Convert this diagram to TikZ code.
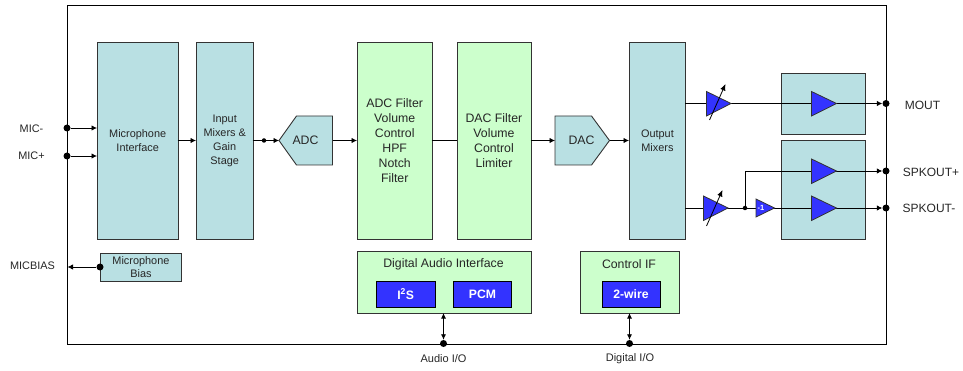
\documentclass[tikz,border=0pt]{standalone}
\usepackage{fontspec}
\setmainfont{Liberation Sans}
\usetikzlibrary{arrows.meta}
\definecolor{teal}{HTML}{B9E0E3}
\definecolor{lgreen}{HTML}{CCFFCC}
\definecolor{vblue}{HTML}{3333FF}
\definecolor{edge}{HTML}{333333}
\newcommand{\fs}[1]{\fontsize{#1}{#1}\selectfont}
\tikzset{
  x=1pt,y=-1pt,
  blk/.style={draw=edge,line width=0.9pt,anchor=north west,inner sep=0pt,align=center,text=black!85},
  tealbox/.style={blk,fill=teal},
  greenbox/.style={blk,fill=lgreen},
  bluebox/.style={blk,fill=vblue,draw=black,text=white,font=\bfseries\fs{12.2}\selectfont},
  lbl/.style={inner sep=0pt,text=black!85},
  sm/.style={font=\fs{10.9}\selectfont,execute at begin node={\baselineskip=14pt}},
  lg/.style={font=\fs{12.3}\selectfont,execute at begin node={\baselineskip=15pt}},
  wire/.style={draw=black,line width=0.8pt},
  arr/.style={wire,-{Latex[length=5.5pt,width=5.5pt]}},
  darr/.style={wire,{Latex[length=5.5pt,width=5pt]}-{Latex[length=5.5pt,width=5pt]}},
  dot/.style={circle,fill=black,inner sep=0pt,minimum size=#1},
  amp/.style={draw=edge,line width=0.8pt,fill=vblue},
  polybox/.style={draw=edge,line width=0.9pt,fill=teal},
  gainarrow/.style={draw=black,line width=0.8pt,-{Latex[length=6.5pt,width=5.5pt]}}
}
\begin{document}
\begin{tikzpicture}
\useasboundingbox (0.5,0) rectangle (963.5,371);
\node[draw=black,line width=0.8pt,anchor=north west,inner sep=0pt,minimum width=819pt,minimum height=338.5pt] (chip) at (67.5,5) {};
% blocks
\node[tealbox,sm,minimum width=80.5pt,minimum height=197pt] (micif) at (97.5,42) {Microphone\\Interface};
\node[tealbox,sm,minimum width=56.5pt,minimum height=197pt] (inmix) at (196.5,42) {Input\\Mixers \&\\Gain\\Stage};
\node[tealbox,sm,minimum width=81pt,minimum height=27.5pt,execute at begin node={\baselineskip=13pt}] (micbias) at (100.5,253) {Microphone\\Bias};
\node[greenbox,lg,minimum width=74.5pt,minimum height=197pt] (adcf) at (357.5,42) {ADC Filter\\Volume\\Control\\HPF\\Notch\\Filter};
\node[greenbox,lg,minimum width=74pt,minimum height=197pt] (dacf) at (457,42) {DAC Filter\\Volume\\Control\\Limiter};
\node[tealbox,sm,minimum width=56pt,minimum height=197pt] (outmix) at (629.5,42) {Output\\Mixers};
\node[tealbox,minimum width=83.5pt,minimum height=61pt] (moutbox) at (781.5,73) {};
\node[tealbox,minimum width=83.5pt,minimum height=98.5pt] (spkbox) at (781.5,140.5) {};
\node[greenbox,minimum width=173.5pt,minimum height=61.5pt] (dai) at (357.5,251.5) {};
\node[lbl,font=\fs{12.3}\selectfont] (dait) at (444,264) {Digital Audio Interface};
\node[bluebox,minimum width=58.5pt,minimum height=26.5pt] (iis) at (376.5,280.5) {I\textsuperscript{2}S};
\node[bluebox,minimum width=58pt,minimum height=26.5pt] (pcm) at (453.5,280.5) {PCM};
\node[greenbox,minimum width=99.5pt,minimum height=61.5pt] (ctl) at (580,251.5) {};
\node[lbl,font=\fs{12.3}\selectfont] (ctlt) at (629.5,264) {Control IF};
\node[bluebox,minimum width=58pt,minimum height=26.5pt] (twow) at (602,280.5) {2-wire};
% ADC / DAC
\draw[polybox] (279.5,140.5) -- (297,116) -- (333,116) -- (333,165) -- (297,165) -- cycle;
\draw[polybox] (555.5,116) -- (592,116) -- (610,140.5) -- (592,165) -- (555.5,165) -- cycle;
\node[lbl,font=\fs{12.3}\selectfont] (adc) at (306,140.5) {ADC};
\node[lbl,font=\fs{12.3}\selectfont] (dac) at (582,140.5) {DAC};
\coordinate (adcin) at (279.5,140.5);
\coordinate (adcout) at (333,140.5);
\coordinate (dacin) at (555.5,140.5);
\coordinate (dacout) at (610,140.5);
% terminals
\node[dot=7pt] (pmicm) at (67.5,128) {};
\node[dot=7pt] (pmicp) at (67.5,156) {};
\node[dot=7pt] (pbias) at (100.5,267) {};
\node[dot=7pt] (pmout) at (886.5,103.5) {};
\node[dot=7pt] (pspkp) at (886.5,171) {};
\node[dot=7pt] (pspkm) at (886.5,208) {};
\node[dot=7pt] (paud) at (444,343.5) {};
\node[dot=7pt] (pdig) at (630,343.5) {};
\node[dot=4.5pt] (jadc) at (264.5,140.5) {};
\node[dot=4.5pt] (jspk) at (745.5,208) {};
\coordinate (chipbias) at (68,267);
\coordinate (micifm) at (97.5,128);
\coordinate (micifp) at (97.5,156);
\coordinate (mifout) at (178,140.5);
\coordinate (inmixin) at (196.5,140.5);
\coordinate (inmixout) at (253,140.5);
\coordinate (adcfin) at (357.5,140.5);
\coordinate (adcfout) at (432,140.5);
\coordinate (dacfin) at (457,140.5);
\coordinate (dacfout) at (531,140.5);
\coordinate (omin) at (629.5,140.5);
\coordinate (omt) at (685.5,103.5);
\coordinate (omb) at (685.5,208);
\coordinate (daib) at (444,313);
\coordinate (ctlb) at (630,313);
% wires (under the amps)
\draw[arr] (omt) -- (pmout);
\draw[wire] (omb) -- (jspk);
\draw[wire] (jspk) -- (775,208);
\draw[arr] (775,208) -- (pspkm);
\draw[arr] (jspk) |- (pspkp);
\draw[arr] (pmicm) -- (micifm);
\draw[arr] (pmicp) -- (micifp);
\draw[arr] (mifout) -- (inmixin);
\draw[wire] (inmixout) -- (jadc);
\draw[arr] (jadc) -- (adcin);
\draw[arr] (adcout) -- (adcfin);
\draw[wire] (adcfout) -- (dacfin);
\draw[arr] (dacfout) -- (dacin);
\draw[arr] (dacout) -- (omin);
\draw[arr] (pbias) -- (chipbias);
\draw[darr] (daib) -- (paud);
\draw[darr] (ctlb) -- (pdig);
% amps
\draw[amp] (707,91.5) -- (731.5,103.5) -- (707,116) -- cycle;
\draw[gainarrow] (710,120) -- (726,84);
\draw[amp] (704,196) -- (728.5,208) -- (704,220.5) -- cycle;
\draw[gainarrow] (707,226) -- (723,190);
\draw[amp] (756.5,199) -- (775,208) -- (756.5,217) -- cycle;
\node[lbl,text=white,font=\bfseries\fs{7.5}\selectfont] (neg) at (761.5,208) {-1};
\draw[amp] (812,91.5) -- (837,103.5) -- (812,116) -- cycle;
\draw[amp] (812,159) -- (837,171) -- (812,183.5) -- cycle;
\draw[amp] (812,196) -- (837,208) -- (812,220.5) -- cycle;
% labels
\node[lbl,font=\fs{10.9}\selectfont] (lmicm) at (32,128.5) {MIC-};
\node[lbl,font=\fs{10.9}\selectfont] (lmicp) at (32,155.5) {MIC+};
\node[lbl,font=\fs{10.9}\selectfont] (lbias) at (33,266) {MICBIAS};
\node[lbl,font=\fs{12}\selectfont] (lmout) at (923,105) {MOUT};
\node[lbl,font=\fs{12}\selectfont] (lspkp) at (931.5,172.5) {SPKOUT+};
\node[lbl,font=\fs{12}\selectfont] (lspkm) at (929.5,208.5) {SPKOUT-};
\node[lbl,font=\fs{11}\selectfont] (laud) at (444,358.5) {Audio I/O};
\node[lbl,font=\fs{11}\selectfont] (ldig) at (630.5,358.5) {Digital I/O};
\end{tikzpicture}
\end{document}
